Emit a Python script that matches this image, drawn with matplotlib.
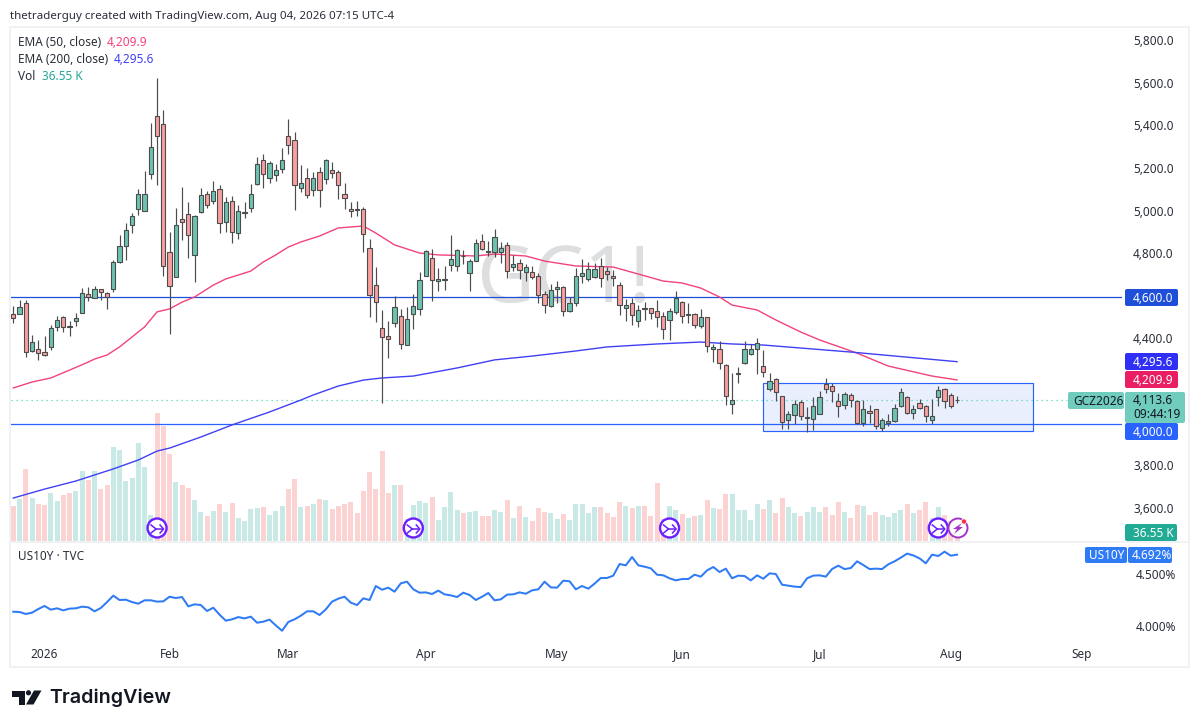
import numpy as np
import matplotlib
matplotlib.use("Agg")
import matplotlib.pyplot as plt
from matplotlib.patches import FancyBboxPatch, Rectangle, Circle, Polygon
from matplotlib.transforms import ScaledTranslation

plt.rcParams['font.family'] = ['Noto Sans', 'DejaVu Sans']

opens = [4518,4521,4570,4347,4353,4339,4366,4460,4504,4464,
4488,4527,4612,4593,4636,4621,4636,4766,4838,4941,
5012,5007,5177,5450,5412,4813,4692,4965,4989,4800,
5001,5083,5050,5106,4951,5050,4899,4996,5017,5130,
5247,5158,5175,5200,5360,5337,5111,5158,5102,5187,
5154,5196,5187,5083,5012,5012,5012,4829,4655,4452,
4415,4476,4509,4372,4518,4542,4697,4782,4674,4678,
4749,4744,4793,4711,4768,4862,4815,4810,4810,4843,
4739,4758,4716,4716,4697,4612,4556,4636,4645,4532,
4570,4700,4683,4692,4744,4721,4697,4655,4547,4570,
4485,4546,4546,4532,4509,4490,4528,4575,4517,4518,
4462,4504,4354,4354,4278,4095,4239,4291,4330,4354,
4274,4165,4212,4132,4020,4043,4104,4032,4024,4048,
4189,4180,4109,4090,4137,4109,4005,4062,4071,3982,
4005,4015,4085,4128,4052,4099,4085,4019,4128,4165,
4137,4115]
closes = [4502,4552,4342,4386,4337,4328,4452,4494,4460,4461,
4499,4617,4598,4636,4625,4598,4767,4838,4913,4979,
5083,5083,5304,5356,4744,4654,4937,4951,4890,4979,
5078,5031,5097,4946,5045,4904,5007,4998,5083,5224,
5177,5229,5196,5247,5313,5125,5135,5080,5158,5102,
5243,5182,5125,5064,5003,5011,4895,4608,4575,4410,
4401,4551,4377,4495,4556,4678,4815,4678,4683,4683,
4777,4819,4791,4768,4852,4824,4810,4881,4829,4721,
4754,4725,4739,4692,4608,4561,4631,4645,4532,4570,
4697,4711,4730,4730,4688,4707,4688,4561,4561,4514,
4537,4542,4523,4504,4448,4532,4594,4509,4518,4467,
4504,4368,4363,4288,4132,4114,4241,4354,4354,4382,
4245,4203,4151,4010,4048,4095,4038,4037,4085,4128,
4169,4156,4085,4142,4114,4005,4071,4052,3991,4019,
4015,4076,4151,4052,4071,4076,4038,4038,4161,4109,
4088,4113.6]
highs = [4557,4585,4585,4421,4397,4416,4468,4510,4510,4488,
4527,4640,4648,4651,4639,4625,4774,4891,4946,4993,
5106,5193,5420,5629,5480,4904,5017,5119,5045,4985,
5111,5100,5145,5125,5072,5075,5032,5047,5131,5257,
5273,5238,5225,5301,5437,5375,5221,5205,5187,5213,
5248,5234,5196,5135,5045,5050,5022,4871,4739,4537,
4485,4603,4542,4551,4612,4716,4819,4824,4735,4744,
4890,4824,4819,4777,4871,4896,4865,4920,4860,4859,
4796,4777,4754,4746,4711,4626,4659,4673,4650,4598,
4735,4779,4765,4758,4784,4740,4727,4669,4589,4597,
4561,4575,4547,4586,4528,4547,4627,4580,4570,4523,
4542,4507,4379,4391,4283,4241,4269,4391,4377,4407,
4350,4241,4217,4133,4065,4114,4114,4084,4131,4156,
4219,4194,4147,4151,4147,4114,4114,4090,4071,4029,
4048,4095,4172,4134,4090,4118,4090,4118,4179,4170,
4147,4134]
lows = [4479,4520,4319,4342,4303,4323,4350,4441,4436,4416,
4463,4527,4582,4593,4585,4543,4625,4761,4774,4902,
4985,5007,5156,5127,4701,4425,4692,4868,4785,4672,
4993,5017,5037,4902,4907,4855,4874,4973,5000,5125,
5112,5138,5147,5185,5273,5009,5096,5064,5077,5025,
5130,5160,5063,5016,4975,4981,4813,4507,4484,4102,
4311,4460,4353,4372,4451,4514,4697,4583,4630,4634,
4724,4724,4757,4630,4768,4821,4794,4790,4758,4691,
4724,4686,4677,4686,4573,4526,4554,4573,4512,4528,
4559,4664,4675,4688,4649,4680,4653,4517,4489,4470,
4460,4493,4498,4460,4404,4399,4518,4479,4476,4456,
4456,4343,4296,4263,4093,4051,4197,4286,4327,4239,
4225,4156,4112,3980,3980,4001,4019,3963,3974,4048,
4147,4107,4037,4071,4084,4001,3994,4005,3977,3969,
3994,4010,4084,4048,4027,4071,4013,4001,4085,4078,
4079,4100]
volume_k = [210,252,432,258,222,216,288,240,276,288,
300,420,366,420,312,336,564,546,360,378,
588,444,156,768,690,522,354,336,318,246,
174,150,180,222,174,228,138,120,192,198,
204,156,180,210,312,372,204,210,222,252,
246,192,210,222,234,168,300,414,312,540,
288,336,336,130,216,240,228,264,126,204,
294,186,168,174,180,150,150,186,174,246,
138,210,144,120,198,174,168,132,162,126,
222,222,168,204,204,168,144,234,210,198,
210,210,150,348,130,210,186,162,138,148,
156,246,198,192,282,282,186,186,126,222,
192,246,168,258,204,168,150,174,204,174,
204,156,234,174,138,216,210,156,174,156,
144,168,186,222,168,186,234,140,204,156,
120,36.55]
us10y = [4.137,4.134,4.115,4.128,4.163,4.193,4.157,4.170,4.150,4.167,
4.170,4.186,4.180,4.141,4.173,4.231,4.293,4.251,4.254,4.231,
4.215,4.248,4.248,4.235,4.238,4.283,4.270,4.280,4.189,4.209,
4.202,4.144,4.176,4.108,4.050,4.063,4.085,4.072,4.089,4.030,
4.040,4.060,4.004,3.952,4.037,4.063,4.098,4.141,4.141,4.105,
4.160,4.235,4.264,4.283,4.225,4.202,4.267,4.251,4.387,4.351,
4.371,4.332,4.413,4.429,4.355,4.322,4.325,4.309,4.342,4.306,
4.296,4.280,4.322,4.300,4.251,4.283,4.319,4.248,4.257,
4.303,4.306,4.325,4.312,4.345,4.355,4.429,4.374,4.371,4.439,
4.433,4.355,4.387,4.361,4.410,4.465,4.465,4.488,4.601,4.588,
4.669,4.588,4.575,4.559,4.497,4.491,4.462,4.442,4.455,4.455,
4.497,4.478,4.539,4.572,4.523,4.556,4.462,4.488,4.484,4.442,
4.491,4.458,4.510,4.504,4.400,4.390,4.381,4.377,4.462,4.488,
4.491,4.478,4.552,4.585,4.552,4.562,4.627,4.591,4.552,4.556,
4.552,4.598,4.627,4.663,4.702,4.685,4.656,4.608,4.692,4.679,
4.721,4.682,4.692]
ema50_bar = [0,3,6,9,12,13,15,17,19,21,23,25,27,29,32,34,38,40,42,44,46,49,52,56,58,61,65,68,74,77,
             82,85,90,96,100,104,107,110,113,115,119,122,126,129,135,140,147,151]
ema50_val = [4172,4200,4219,4256,4294,4308,4327,4365,4412,4459,4530,4544,4576,4600,4656,4685,4722,4765,4798,4835,4859,4887,4925,4934,4901,4845,4807,4798,4793,4802,
             4793,4769,4746,4741,4708,4675,4666,4642,4600,4562,4539,4492,4435,4398,4336,4275,4228,4209.9]
ema200_bar = [0,5,10,16,20,23,25,30,35,41,46,48,52,56,59,64,71,77,83,90,95,103,110,115,120,134,151]
ema200_val = [3654,3696,3734,3791,3833,3875,3889,3941,3998,4059,4115,4139,4181,4209,4219,4228,4266,4304,4322,4346,4365,4379,4388,4379,4374,4341,4295.6]
price_ticks = [3600,3800,4400,4800,5000,5200,5400,5600,5800]
yield_ticks = [4.0,4.5]
month_bars = [5,25,44,66,87,107,129,150,171]
month_labels = ['2026','Feb','Mar','Apr','May','Jun','Jul','Aug','Sep']
level_prices = [4600,4000]
last_price = 4113.6
range_box = (120.0,163.1,3968,4194)
event_bars = [23,64,105,148]

W,H = 1200,728
FS = 8.5
fig = plt.figure(figsize=(W/100,H/100),dpi=100,facecolor='white')
def axpos(x0,y0,x1,y1):
    return [x0/W,1-y1/H,(x1-x0)/W,(y1-y0)/H]
n = len(closes)
idx = np.arange(n)
xl = ((11-13.3)/6.25,(1122-13.3)/6.25)
to_y = lambda y: 4000+(424.5-y)/0.2125

TXT = '#2a2e39'
UP,DN = '#6cc4b0','#f99f9f'
DARK = '#4c4c4c'
vol = fig.add_axes(axpos(11,29,1122,541),zorder=1)
vol.set_xlim(*xl); vol.set_ylim(0,512*6); vol.axis('off')
is_up = np.array(closes)>=np.array(opens)
vol.bar(idx,volume_k,width=0.8,color=np.where(is_up,'#c8e9e5','#fbd3d2'),linewidth=0)

ax = fig.add_axes(axpos(11,29,1122,541),zorder=2)
ax.patch.set_alpha(0)
ax.set_xlim(*xl); ax.set_ylim(to_y(541),to_y(29))
for s in ax.spines.values(): s.set_visible(False)
ax.set_xticks([])
ax.yaxis.tick_right()
ax.set_yticks(price_ticks,[f'{p:,.1f}' for p in price_ticks])
ax.tick_params(axis='y',length=0,pad=8,labelsize=FS,labelcolor=TXT)
up_shift = ScaledTranslation(0,1.5/100,fig.dpi_scale_trans)
for lab in ax.get_yticklabels():
    lab.set_va('center_baseline')
    lab.set_transform(lab.get_transform()+up_shift)
ax.text((563-13.3)/6.25,to_y(282),'GC1!',ha='center',va='center',fontsize=57,color='#dddee0',zorder=0)

ax.add_patch(Rectangle((range_box[0],range_box[2]),range_box[1]-range_box[0],range_box[3]-range_box[2],
                       facecolor='#e9effd',edgecolor='#2962ff',linewidth=0.85,zorder=1))
ax.axhline(level_prices[0],color='#1f4fd8',lw=0.9,zorder=2)
ax.axhline(level_prices[1],color='#2962ff',lw=0.9,zorder=2)
ax.plot([xl[0],(1067-13.3)/6.25],[last_price]*2,color='#52d6bf',lw=0.9,ls=(0,(1,3)),zorder=2)
ax.plot(ema50_bar,ema50_val,color='#f2437a',lw=1.0,zorder=3)
ax.plot(ema200_bar,ema200_val,color='#4040f5',lw=1.0,zorder=3)
ax.vlines(idx,lows,highs,color=DARK,lw=0.85,zorder=4)
ax.bar(idx,np.abs(np.array(closes)-np.array(opens)),bottom=np.minimum(opens,closes),width=0.66,
       color=np.where(is_up,UP,DN),edgecolor=DARK,linewidth=0.8,zorder=5)

low = fig.add_axes(axpos(11,543,1122,643),zorder=2)
low.patch.set_alpha(0)
for s in low.spines.values(): s.set_visible(False)
low.set_xlim(*xl)
toy = lambda y: 4.5+(574.4-y)/102.8
low.set_ylim(toy(643),toy(543))
low.plot(idx,us10y,color='#2f7bf5',lw=1.45,solid_joinstyle='round')
low.yaxis.tick_right()
low.set_yticks(yield_ticks,['4.000%','4.500%'])
low.tick_params(axis='y',length=0,pad=10,labelsize=FS,labelcolor=TXT)
for lab in low.get_yticklabels(): lab.set_va('center_baseline')
low.get_yticklabels()[0].set_fontweight('medium')
low.set_xticks(month_bars,month_labels)
low.tick_params(axis='x',length=0,pad=3.3,labelsize=FS,labelcolor=TXT)
low.get_xticklabels()[0].set_fontweight('bold')

ov = fig.add_axes([0,0,1,1],zorder=5)
ov.set_xlim(0,W); ov.set_ylim(H,0); ov.axis('off'); ov.patch.set_alpha(0)
BORDER = '#f0f1f3'
for r in [(9,26,1181,2),(9,26,2,642),(1188,26,2,642),(9,666,1181,2),(11,541,1179,1.6)]:
    ov.add_patch(Rectangle((r[0],r[1]),r[2],r[3],color=BORDER,lw=0,zorder=1))

def t(x,y,s,c=TXT,**k):
    k.setdefault('fontsize',FS)
    ov.text(x,y+4.3,s,color=c,va='baseline',ha=k.pop('ha','left'),**k)
t(10,15,'thetraderguy created with TradingView.com, Aug 04, 2026 07:15 UTC-4',fontsize=8.3)
t(18,42,'EMA (50, close)'); t(107,42,'4,209.9','#f2437a')
t(18,59,'EMA (200, close)'); t(114,59,'4,295.6','#4040f5')
t(18,76,'Vol'); t(42,76,'36.55 K','#26a69a')
t(18,556,'US10Y · TVC')

def box(x0,y0,x1,y1,c):
    ov.add_patch(FancyBboxPatch((x0+2,y0+2),x1-x0-4,y1-y0-4,boxstyle='round,pad=2,rounding_size=2',
                                facecolor=c,edgecolor='none',zorder=3))
box(1068,392,1124,409,'#70ccbd'); t(1073,400.5,'GCZ2026','#131722',zorder=4)
box(1125,392,1185,423,'#70ccbd'); t(1133,399.5,'4,113.6','#131722',zorder=4); t(1133,413.5,'09:44:19','#131722',zorder=4)
for y0,c,s in [(289,'#1f4fd8','4,600.0'),(353,'#2f2ff5','4,295.6'),(371,'#e91e63','4,209.9'),(423,'#2962ff','4,000.0')]:
    box(1125,y0,1178,y0+17,c); t(1133,y0+8.5,s,'white',zorder=4,fontweight='medium')
box(1125,524,1177,541,'#22ab94'); t(1133,532.5,'36.55 K','white',zorder=4)
box(1085,547,1127,563,'#2f7bf5'); t(1089,555,'US10Y','white',zorder=4)
box(1128,547,1172,563,'#2f7bf5'); t(1132,555,'4.692%','white',zorder=4)

PUR = '#6a1fff'
for b in event_bars:
    cx = 13.3+6.25*b; cy = 528
    ov.add_patch(Circle((cx,cy),9.5,facecolor='white',edgecolor=PUR,lw=1.7,zorder=6))
    ov.plot([cx-6,cx-1,cx+6],[cy-3,cy+1,cy+1],color=PUR,lw=1.1,zorder=7)
    ov.plot([cx-6,cx-1],[cy+5,cy+1],color=PUR,lw=1.1,zorder=7)
    ov.plot([cx+3,cx+6.5,cx+3],[cy-3,cy+1,cy+5],color=PUR,lw=1.1,zorder=7)
cx,cy = 958,528
ov.add_patch(Circle((cx,cy),9.5,facecolor='white',edgecolor='#a335c9',lw=1.4,zorder=6))
ov.add_patch(Polygon([(cx+4,cy-5),(cx-5,cy+1),(cx-1,cy+1),(cx-4,cy+6),(cx+5,cy-1),(cx+1,cy-1)],color='#a335c9',lw=0,zorder=7))
ov.add_patch(Circle((964,521.5),2.6,facecolor='#f23645',edgecolor='white',lw=0.5,zorder=8))

LOGO = '#131722'
ov.add_patch(Polygon([(12,690.5),(25,690.5),(25,704.5),(18.5,704.5),(18.5,696.5),(12,696.5)],color=LOGO,lw=0))
ov.add_patch(Circle((28.5,692.8),2.6,color=LOGO,lw=0))
ov.add_patch(Polygon([(34,690.5),(41.5,690.5),(33.5,704.5),(26,704.5)],color=LOGO,lw=0))
ov.text(49,697.5,'TradingView',family='Inter',fontsize=14.2,fontweight='semibold',color=LOGO,va='center',ha='left')

fig.savefig('out.png',dpi=100,facecolor='white')
